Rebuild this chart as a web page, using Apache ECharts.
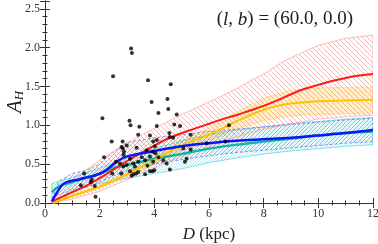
<!DOCTYPE html>
<html><head><meta charset="utf-8">
<script src="https://cdn.jsdelivr.net/npm/echarts@6/dist/echarts.min.js"></script>
<style>html,body{margin:0;padding:0;background:#fff}#c{width:378px;height:244px}</style>
</head><body><div id="c"></div>
<script>
// ---- data ----
var xTicks = [0, 2, 4, 6, 8, 10, 12];
var yTicks = [0.0, 0.5, 1.0, 1.5, 2.0, 2.5];

var redD = [0.25,0.5,1.0,1.5,2.0,2.5,3.0,3.5,4.0,4.5,5.0,5.5,6.0,6.5,7.0,7.5,8.0,8.5,9.0,9.5,10.0,10.5,11.0,11.5,12.0];
var redA = [0.02,0.06,0.14,0.22,0.32,0.43,0.54,0.64,0.74,0.83,0.90,0.96,1.02,1.08,1.13,1.19,1.25,1.32,1.40,1.47,1.52,1.57,1.61,1.64,1.66];

var blueD = [0.25,0.45,0.65,0.9,1.2,1.5,1.8,2.1,2.4,2.7,3.0,3.4,4.0,5.0,6.0,7.0,8.0,9.0,10.0,11.0,12.0];
var blueA = [0.02,0.14,0.24,0.28,0.30,0.33,0.35,0.39,0.47,0.55,0.60,0.63,0.67,0.73,0.77,0.80,0.82,0.84,0.87,0.90,0.94];

var tealD = [0.25,0.5,1.0,1.5,2.0,2.5,3.0,3.5,4.0,5.0,6.0,7.0,8.0,9.0,10.0,11.0,12.0];
var tealA = [0.14,0.21,0.27,0.32,0.38,0.45,0.49,0.53,0.57,0.63,0.70,0.75,0.79,0.83,0.87,0.90,0.92];

var yelD = [0.3,1.0,2.0,3.0,3.5,4.0,4.5,5.0,5.5,6.0,6.5,7.0,7.5,8.0,8.5,9.0,10.0,11.0,12.0];
var yelA = [0.00,0.09,0.21,0.37,0.46,0.55,0.65,0.74,0.81,0.88,0.96,1.05,1.13,1.20,1.25,1.28,1.31,1.32,1.33];

var redBandD  = [0.25,1.0,2.0,3.0,3.5,4.0,5.0,6.0,7.0,7.5,8.0,8.7,9.5,10.0,11.0,12.0];
var redBandHi = [0.03,0.30,0.55,0.77,0.87,0.96,1.14,1.30,1.47,1.57,1.66,1.82,1.95,2.03,2.12,2.16];
var redBandLo = [0.00,0.05,0.15,0.30,0.38,0.45,0.60,0.72,0.85,0.90,0.95,1.00,1.05,1.08,1.11,1.13];

var yelBandD  = [0.3,2.0,3.0,4.0,5.0,6.0,7.0,8.0,9.0,10.0,11.0,12.0];
var yelBandHi = [0.02,0.23,0.40,0.60,0.80,0.97,1.17,1.35,1.45,1.48,1.49,1.49];
var yelBandLo = [0.00,0.19,0.34,0.50,0.68,0.80,0.95,1.06,1.12,1.14,1.15,1.15];

var blueBandD  = [0.25,0.5,1.0,1.5,2.0,2.5,3.0,4.0,5.0,6.0,7.0,8.0,9.0,10.0,11.0,12.0];
var blueBandHi = [0.05,0.28,0.38,0.42,0.50,0.66,0.78,0.84,0.88,0.92,0.95,0.98,1.01,1.04,1.07,1.09];
var blueBandLo = [0.00,0.05,0.15,0.20,0.27,0.35,0.42,0.50,0.56,0.61,0.65,0.68,0.71,0.74,0.77,0.79];

var tealBandD  = [0.25,1.0,2.0,3.0,4.0,5.0,6.0,7.0,8.0,9.0,10.0,11.0,12.0];
var tealBandHi = [0.25,0.33,0.45,0.58,0.70,0.80,0.88,0.94,0.98,1.02,1.05,1.08,1.10];
var tealBandLo = [0.07,0.17,0.25,0.32,0.38,0.44,0.52,0.58,0.63,0.67,0.70,0.73,0.75];

var starD = [3.15,3.18,2.49,3.77,4.60,2.10,3.90,4.48,4.15,4.51,4.82,3.09,3.13,3.45,4.73,4.94,4.09,3.41,3.84,4.55,4.57,4.69,5.33,2.84,2.99,2.80,3.96,4.02,4.09,3.35,2.89,3.72,3.94,4.04,5.06,2.87,3.11,3.54,3.84,4.15,3.23,3.41,3.66,3.96,4.33,4.45,5.18,5.12,2.74,2.99,2.87,3.29,3.11,3.41,3.23,3.17,3.33,3.66,3.84,3.93,4.57,2.44,2.85,2.16,2.59,1.43,1.71,1.67,1.31,1.82,1.85,2.46,2.79,6.73,5.92,6.61,5.33,4.00,3.75];
var starA = [1.99,1.93,1.63,1.58,1.53,1.09,1.30,1.34,1.16,1.21,1.14,1.06,1.00,0.98,1.01,0.99,0.99,0.88,0.87,0.90,0.85,0.84,0.88,0.79,0.74,0.72,0.79,0.73,0.81,0.71,0.66,0.68,0.66,0.64,0.70,0.62,0.57,0.59,0.60,0.59,0.51,0.53,0.55,0.53,0.55,0.51,0.57,0.53,0.51,0.49,0.47,0.47,0.41,0.40,0.37,0.35,0.38,0.37,0.41,0.41,0.43,0.79,0.70,0.59,0.53,0.38,0.30,0.27,0.23,0.22,0.08,0.38,0.38,1.00,0.77,0.79,0.69,0.42,0.48];

// ---- helpers ----
function zip(a, b) { return a.map(function (v, i) { return [v, b[i]]; }); }
function hatch(color, size, dir, lw, bg) {
  var c = document.createElement('canvas');
  c.width = size; c.height = size;
  var g = c.getContext('2d');
  if (bg) { g.fillStyle = bg; g.fillRect(0, 0, size, size); }
  g.strokeStyle = color; g.lineWidth = lw;
  g.beginPath();
  for (var k = -1; k <= 1; k++) {
    if (dir === '/') { g.moveTo(k * size, size); g.lineTo(k * size + size, 0); }
    else { g.moveTo(k * size, 0); g.lineTo(k * size + size, size); }
  }
  g.stroke();
  return { image: c, repeat: 'repeat' };
}
function band(name, D, lo, hi, fill, stroke, dash, z) {
  return {
    type: 'custom', name: name, z: z, clip: true,
    data: D.map(function (d, i) { return [d, lo[i], hi[i]]; }),
    encode: { x: 0, y: [1, 2] },
    renderItem: function (params, api) {
      if (params.dataIndex !== 0) return null;
      var pts = [];
      for (var i = 0; i < D.length; i++) pts.push(api.coord([D[i], hi[i]]));
      for (var j = D.length - 1; j >= 0; j--) pts.push(api.coord([D[j], lo[j]]));
      return {
        type: 'polygon', shape: { points: pts },
        style: { fill: fill, stroke: stroke, lineWidth: 0.8, lineDash: dash }
      };
    }
  };
}
function line(D, A, color, w, z) {
  return { type: 'line', data: zip(D, A), smooth: 0.35, showSymbol: false, z: z,
    lineStyle: { color: color, width: w }, silent: true };
}

var serif = '"Liberation Serif", "DejaVu Serif", serif';
function axisCommon(showLabel) {
  return {
    axisLine: { show: true, lineStyle: { color: '#333', width: 1 } },
    axisTick: { show: true, inside: true, length: 5, lineStyle: { color: '#333' } },
    minorTick: { show: true, length: 2.5, lineStyle: { color: '#333' } },
    splitLine: { show: false },
    axisLabel: { show: showLabel, fontFamily: serif, fontSize: 12, color: '#333', showMaxLabel: true }
  };
}

var chart = echarts.init(document.getElementById('c'), null, { renderer: 'canvas' });
var xb = Object.assign(axisCommon(true), { type: 'value', position: 'bottom', min: xTicks[0], max: xTicks[xTicks.length - 1], interval: 2,
  name: '{i|D} (kpc)', nameLocation: 'middle', nameGap: 23, nameMoveOverlap: false,
  nameTextStyle: { fontFamily: serif, fontSize: 17, color: '#222', rich: { i: { fontFamily: serif, fontStyle: 'italic', fontSize: 17, color: '#222' } } } });
xb.minorTick.splitNumber = 4;
xb.axisLabel.margin = 5;
var xt = Object.assign(axisCommon(false), { type: 'value', position: 'top', min: 0, max: 12, interval: 2 });
xt.minorTick.splitNumber = 4;
var yl = Object.assign(axisCommon(true), { type: 'value', position: 'left', min: yTicks[0], max: 2.6, interval: 0.5,
  name: '{a|A}{h|H}', nameLocation: 'middle', nameGap: 19, nameRotate: 90, nameMoveOverlap: false,
  nameTextStyle: { rich: { a: { fontFamily: serif, fontStyle: 'italic', fontSize: 21, color: '#222' },
                           h: { fontFamily: serif, fontStyle: 'italic', fontSize: 13, color: '#222', verticalAlign: 'bottom', padding: [9, 0, 0, 0] } } } });
yl.minorTick.splitNumber = 5;
yl.axisLabel.showMaxLabel = false;
yl.axisLabel.margin = 5;
yl.axisLabel.formatter = function (v) { return v.toFixed(1); };
var yr = Object.assign(axisCommon(false), { type: 'value', position: 'right', min: 0, max: 2.6, interval: 0.5 });
yr.minorTick.splitNumber = 5;

chart.setOption({
  animation: false,
  backgroundColor: '#fff',
  grid: { left: 45, right: 5, top: 1, bottom: 41, containLabel: false, outerBoundsMode: 'none' },
  xAxis: [xb, xt],
  yAxis: [yl, yr],
  graphic: [{
    type: 'text', right: 25, top: 10, z: 100,
    style: {
      text: '({i|l}, {i|b}) = (60.0, 0.0)',
      font: '19px ' + serif, fill: '#222',
      rich: { i: { fontFamily: serif, fontStyle: 'italic', fontSize: 19, fill: '#222' } }
    }
  }],
  series: [
    band('yband', yelBandD, yelBandLo, yelBandHi, 'rgba(255,215,90,0.35)', 'rgba(255,200,60,0.5)', null, 1),
    band('tband', tealBandD, tealBandLo, tealBandHi, hatch('rgba(40,210,220,0.6)', 3, '/', 0.7), 'rgba(60,210,220,0.8)', null, 2),
    band('bband', blueBandD, blueBandLo, blueBandHi, hatch('rgba(90,90,255,0.6)', 4, '/', 0.7), 'rgba(80,80,255,0.8)', [3, 2], 3),
    band('rband', redBandD, redBandLo, redBandHi, hatch('rgba(255,120,120,0.8)', 5, '\\', 0.7), 'rgba(255,150,150,0.8)', null, 4),
    line(tealD, tealA, '#17b3a8', 2.5, 10),
    line(yelD, yelA, '#ffc400', 2, 11),
    line(redD, redA, '#ff1a1a', 2, 12),
    line(blueD, blueA, '#0a14ff', 2.5, 13),
    { type: 'scatter', data: zip(starD, starA), symbolSize: 4, z: 20,
      itemStyle: { color: '#000' }, silent: true }
  ]
});
</script></body></html>
